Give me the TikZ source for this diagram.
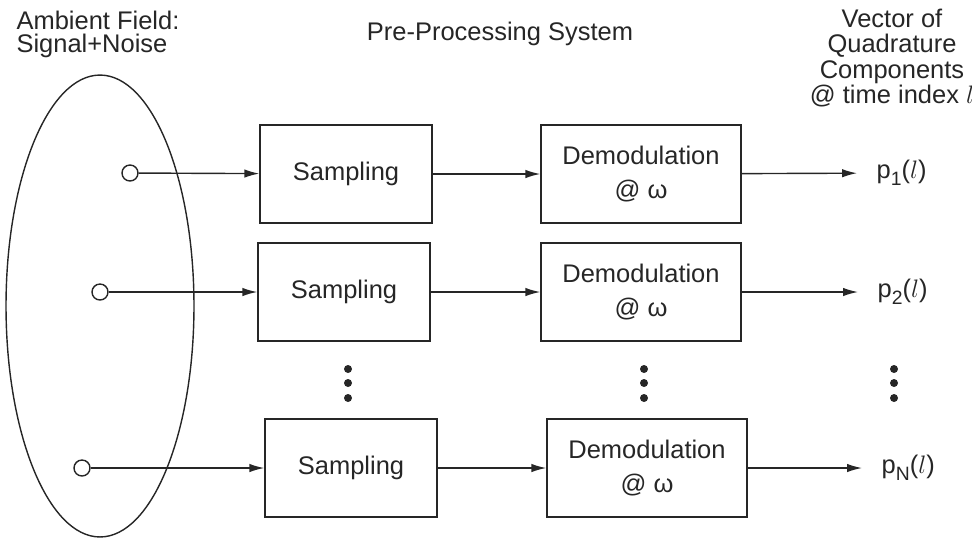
\documentclass[tikz,border=0pt]{standalone}
\usepackage{fontspec}
\setmainfont{Liberation Sans}
\usetikzlibrary{arrows,arrows.meta}

\begin{document}
\begin{tikzpicture}[x=0.02cm,y=-0.02cm,>={Latex[length=0.3cm,width=0.17cm]},line width=0.8pt,color=black!85,font=\fontsize{14.5}{15}\selectfont,
	block node/.style={rectangle,draw,minimum height=1.96cm,align=center},
	sensor node/.style={circle,draw,minimum size=0.32cm,inner sep=0pt},
	out node/.style={anchor=west,inner xsep=0.38cm,inner ysep=0pt},
	title node/.style={align=center,font=\fontsize{14.5}{13.5}\selectfont}]
		\newcommand{\lowsub}[1]{\raisebox{-0.55ex}{\fontsize{11}{11}\selectfont #1}}
		\useasboundingbox (0,0) rectangle (972,539);
		\node[title node,align=left,anchor=north west] (field) at (10,4) {Ambient Field:\\Signal+Noise};
		\node[title node] (pre) at (500,34) {Pre-Processing System};
		\node[title node,font=\fontsize{14.5}{14.5}\selectfont] (vec) at (892,58) {Vector of\\Quadrature\\Components\\@ time index $l$};
		\draw (100,306) ellipse [x radius=1.88cm,y radius=4.62cm];
		\node[sensor node] (1) at (130,173) {};
		\node[sensor node] (2) at (100,292) {};
		\node[sensor node] (3) at (82,468) {};
		\node[block node,minimum width=3.44cm] (s1) at (346,174) {Sampling};
		\node[block node,minimum width=3.44cm] (s2) at (344,292) {Sampling};
		\node[block node,minimum width=3.44cm] (s3) at (351,468) {Sampling};
		\node[block node,minimum width=4cm] (d1) at (641,174) {Demodulation\\[4pt]@ ω};
		\node[block node,minimum width=4cm] (d2) at (641,292) {Demodulation\\[4pt]@ ω};
		\node[block node,minimum width=4cm] (d3) at (647,468) {Demodulation\\[4pt]@ ω};
		\node[out node] (p1) at (857,173) {p\lowsub{1}($l$)};
		\node[out node] (p2) at (858,292) {p\lowsub{2}($l$)};
		\node[out node] (pN) at (862,468) {p\lowsub{N}($l$)};
		\path[->]
		(1) edge (s1) (s1) edge (d1) (d1) edge (p1)
		(2) edge (s2) (s2) edge (d2) (d2) edge (p2)
		(3) edge (s3) (s3) edge (d3) (d3) edge (pN);
		% vertical dots
		\foreach \x in {348,644,894}
		\foreach \y in {369,383,398}
		\fill (\x,\y) circle [radius=0.08cm];
\end{tikzpicture}
\end{document}
